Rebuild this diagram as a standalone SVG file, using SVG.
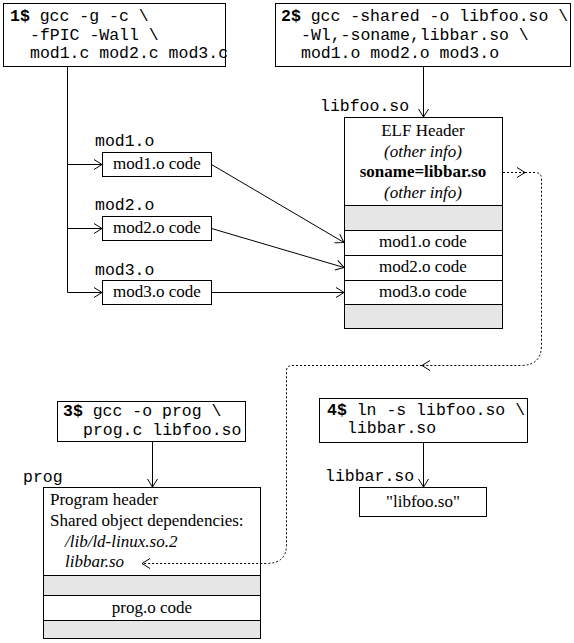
<svg xmlns="http://www.w3.org/2000/svg" width="574" height="643" viewBox="0 0 574 643">
<style>
.box{fill:#fff;stroke:#000;stroke-width:1}
.gray{fill:#e6e6e6;stroke:#000;stroke-width:1}
.mono{font-family:"Liberation Mono","DejaVu Sans Mono",monospace;font-size:16.5px;fill:#000}
.b{font-weight:bold}
.serif{font-family:"Liberation Serif","Times New Roman",serif;font-size:17px;fill:#000}
.c{text-anchor:middle}
.it{font-style:italic}
.ln{fill:none;stroke:#000;stroke-width:1}
.dot{fill:none;stroke:#000;stroke-width:1;stroke-dasharray:2,2}
</style>
<defs>
<marker id="arr" markerWidth="12" markerHeight="12" refX="10" refY="6" orient="auto" markerUnits="userSpaceOnUse" viewBox="0 0 12 12">
<path d="M2,1 L10,6 L2,11" fill="none" stroke="#000" stroke-width="1"/>
</marker>
</defs>
<rect width="574" height="643" fill="#fff"/>

<g id="cmd1">
<rect class="box" x="3.5" y="3.5" width="222" height="63"/>
<text class="mono" x="10" y="21"><tspan class="b">1$</tspan> gcc -g -c \</text>
<text class="mono" x="30" y="39.5">-fPIC -Wall \</text>
<text class="mono" x="30" y="58">mod1.c mod2.c mod3.c</text>
</g>

<g id="cmd2">
<rect class="box" x="275.5" y="3.5" width="295" height="63"/>
<text class="mono" x="281" y="21"><tspan class="b">2$</tspan> gcc -shared -o libfoo.so \</text>
<text class="mono" x="301" y="39.5">-Wl,-soname,libbar.so \</text>
<text class="mono" x="301" y="58">mod1.o mod2.o mod3.o</text>
</g>

<g id="mod1">
<text class="mono" x="95" y="146">mod1.o</text>
<rect class="box" x="102.5" y="152.5" width="109" height="24"/>
<text class="serif c" x="157" y="169">mod1.o code</text>
</g>
<g id="mod2">
<text class="mono" x="95" y="210">mod2.o</text>
<rect class="box" x="102.5" y="216.5" width="109" height="24"/>
<text class="serif c" x="157" y="233">mod2.o code</text>
</g>
<g id="mod3">
<text class="mono" x="95" y="275">mod3.o</text>
<rect class="box" x="102.5" y="280.5" width="109" height="24"/>
<text class="serif c" x="157" y="297">mod3.o code</text>
</g>

<g id="libfoo">
<text class="mono" x="320" y="111">libfoo.so</text>
<rect class="box" x="344.5" y="117.5" width="158" height="211"/>
<rect class="gray" x="344.5" y="205.5" width="158" height="25"/>
<rect class="box" x="344.5" y="230.5" width="158" height="25"/>
<rect class="box" x="344.5" y="255.5" width="158" height="25"/>
<rect class="box" x="344.5" y="280.5" width="158" height="24"/>
<rect class="gray" x="344.5" y="304.5" width="158" height="24"/>
<text class="serif c" x="423" y="136">ELF Header</text>
<text class="serif c it" x="423" y="156.5">(other info)</text>
<text class="serif c b" x="423" y="177">soname=libbar.so</text>
<text class="serif c it" x="423" y="198">(other info)</text>
<text class="serif c" x="423" y="247">mod1.o code</text>
<text class="serif c" x="423" y="272">mod2.o code</text>
<text class="serif c" x="423" y="296.5">mod3.o code</text>
</g>

<g id="cmd3">
<rect class="box" x="57.5" y="401.5" width="188" height="40"/>
<text class="mono" x="63" y="416"><tspan class="b">3$</tspan> gcc -o prog \</text>
<text class="mono" x="83" y="434.5">prog.c libfoo.so</text>
</g>

<g id="cmd4">
<rect class="box" x="319.5" y="398.5" width="208" height="44"/>
<text class="mono" x="327" y="415"><tspan class="b">4$</tspan> ln -s libfoo.so \</text>
<text class="mono" x="347" y="433">libbar.so</text>
</g>

<g id="prog">
<text class="mono" x="23" y="482">prog</text>
<rect class="box" x="43.5" y="487.5" width="217" height="151"/>
<rect class="gray" x="43.5" y="575.5" width="217" height="20"/>
<rect class="box" x="43.5" y="595.5" width="217" height="25"/>
<rect class="gray" x="43.5" y="620.5" width="217" height="18"/>
<text class="serif" x="50" y="505">Program header</text>
<text class="serif" x="50" y="526">Shared object dependencies:</text>
<text class="serif it" x="65" y="547">/lib/ld-linux.so.2</text>
<text class="serif it" x="65" y="567">libbar.so</text>
<text class="serif c" x="152" y="613">prog.o code</text>
</g>

<g id="libbar">
<text class="mono" x="325" y="481">libbar.so</text>
<rect class="box" x="359.5" y="487.5" width="127" height="29"/>
<text class="serif c" x="423" y="507">"libfoo.so"</text>
</g>

<g id="connectors">
<path class="ln" d="M67.5,66 V292.5"/>
<path class="ln" d="M67.5,164.5 H102" marker-end="url(#arr)"/>
<path class="ln" d="M67.5,228.5 H102" marker-end="url(#arr)"/>
<path class="ln" d="M67.5,292.5 H102" marker-end="url(#arr)"/>
<path class="ln" d="M211.5,164.5 L344,242.5" marker-end="url(#arr)"/>
<path class="ln" d="M211.5,228.5 L344,267.5" marker-end="url(#arr)"/>
<path class="ln" d="M211.5,292.5 H344" marker-end="url(#arr)"/>
<path class="ln" d="M423.5,66 V117" marker-end="url(#arr)"/>
<path class="ln" d="M152.5,442 V487" marker-end="url(#arr)"/>
<path class="ln" d="M423.5,443 V487" marker-end="url(#arr)"/>
<path class="dot" d="M503,172.5 H525" marker-end="url(#arr)"/>
<path class="dot" d="M525,172.5 H535 Q541.5,172.5 541.5,179 V345 Q541.5,365.5 521,365.5 H422" marker-end="url(#arr)"/>
<path class="dot" d="M422,365.5 H292 Q286.5,365.5 286.5,371 V545 Q286.5,563.5 266,563.5 H142" marker-end="url(#arr)"/>
</g>
</svg>
